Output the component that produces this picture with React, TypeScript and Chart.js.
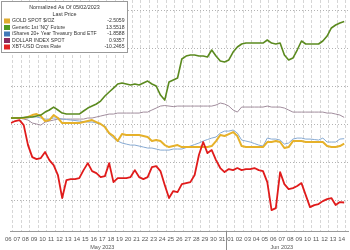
import React, { useEffect, useRef } from "react";
import { Chart, registerables } from "chart.js";
Chart.register(...registerables);

// time axis: days since 07 May 2023 00:00
const START = -0.2;
const STEP = 0.5;

const seriesNames = [
  "GOLD SPOT $/OZ",
  "Generic 1st 'NQ' Future",
  "iShares 20+ Year Treasury Bond ETF",
  "DOLLAR INDEX SPOT",
  "XBT-USD Cross Rate",
];
const lastPrices = ["-2.5059", "13.5518", "-1.8588", "0.9357", "-10.2465"];

const gold = [
  0.86, 0.86, 0.86, 0.86, 0.99, 1.25, 1.38, 1.12, 0.46, 0.59,
  1.25, 0.86, 0.2, 0.2, 0.2, 0.2, 0.2, 0.33, 0.46, 0.59,
  0.33, 0.07, -0.33, -1.12, -1.51, -2.17, -1.25, -1.38, -1.38, -1.38,
  -1.38, -1.51, -1.64, -2.17, -2.04, -2.17, -2.7, -2.96, -2.83, -2.7,
  -2.96, -2.96, -2.96, -2.96, -2.96, -2.96, -2.96, -2.83, -2.17, -1.38,
  -1.51, -1.25, -0.99, -1.51, -2.83, -2.96, -2.96, -2.96, -2.96, -2.96,
  -2.3, -2.3, -2.17, -2.3, -3.09, -2.96, -2.17, -2.17, -2.17, -2.3,
  -2.3, -2.3, -2.3, -2.3, -2.83, -2.96, -2.96, -2.83, -2.51,
];
const nasdaq = [
  0.86, 0.86, 0.86, 0.92, 0.99, 0.99, 1.12, 1.25, 1.64, 1.91,
  2.3, 1.91, 1.51, 1.38, 1.38, 1.38, 1.38, 1.78, 2.17, 2.43,
  2.7, 3.09, 3.75, 4.28, 4.8, 5.33, 5.46, 5.33, 5.2, 5.33,
  5.2, 5.46, 5.72, 5.33, 5.07, 3.88, 3.22, 5.59, 5.86, 6.12,
  8.62, 9.01, 9.14, 9.14, 9.01, 9.01, 8.88, 9.8, 9.01, 8.36,
  8.22, 8.49, 9.54, 10.2, 10.59, 10.72, 10.72, 10.72, 10.72, 10.72,
  11.12, 10.72, 10.59, 10.72, 9.14, 8.49, 8.75, 9.8, 10.99, 10.59,
  10.59, 10.59, 10.59, 10.99, 11.64, 12.7, 13.09, 13.36, 13.55,
];
const treasury = [
  0.86, 0.86, 0.86, 0.86, 0.86, 0.99, 0.99, 0.86, 0.72, 0.72,
  0.86, 0.86, 0.72, 0.66, 0.59, 0.53, 0.46, 0.39, 0.33, 0.33,
  0.2, 0.07, -0.2, -1.25, -1.78, -2.17, -2.43, -2.57, -2.7, -2.7,
  -2.83, -2.96, -3.09, -3.09, -3.22, -3.36, -3.36, -3.36, -3.22, -3.22,
  -3.22, -3.03, -2.83, -2.63, -2.43, -2.17, -1.97, -1.78, -1.64, -1.12,
  -0.86, -0.86, -0.72, -1.12, -2.04, -2.17, -2.3, -2.5, -2.7, -2.83,
  -1.78, -1.91, -1.91, -2.04, -2.57, -2.43, -1.91, -1.78, -1.78, -1.91,
  -1.91, -1.97, -2.04, -1.78, -2.3, -2.3, -2.3, -1.91, -1.86,
];
const dollar = [
  0.86, 0.86, 0.86, 0.72, 0.59, 0.2, 0.07, -0.07, 0.33, 0.46,
  0.59, 0.72, 0.72, 0.72, 0.72, 0.72, 0.72, 0.72, 0.86, 0.86,
  0.99, 1.12, 1.25, 1.38, 1.38, 1.51, 1.51, 1.51, 1.51, 1.51,
  1.51, 1.64, 1.64, 1.91, 2.17, 2.43, 2.5, 2.43, 2.36, 2.43,
  2.43, 2.43, 2.43, 2.43, 2.43, 2.43, 2.43, 2.43, 2.57, 2.83,
  2.7, 2.43, 1.91, 1.64, 2.3, 2.3, 2.3, 2.3, 2.3, 2.3,
  2.43, 2.3, 2.3, 2.3, 2.17, 1.91, 1.64, 1.64, 1.64, 1.64,
  1.64, 1.64, 1.64, 1.64, 1.51, 1.51, 1.38, 1.25, 0.94,
];
const bitcoin = [
  0.2, 0.46, 0.59, -0.07, -2.7, -4.28, -4.54, -4.41, -3.62, -4.67,
  -5.33, -6.64, -9.67, -7.3, -7.17, -7.17, -7.04, -5.99, -5.07, -6.12,
  -6.38, -6.91, -6.78, -5.07, -7.57, -7.04, -7.04, -7.04, -6.91, -5.99,
  -6.91, -7.17, -6.91, -5.59, -5.46, -6.12, -7.96, -9.67, -8.75, -8.88,
  -7.83, -7.7, -7.57, -6.64, -4.01, -2.3, -3.75, -3.36, -4.67, -5.72,
  -6.25, -5.86, -5.99, -5.72, -5.99, -5.86, -5.86, -5.72, -5.99, -6.12,
  -7.57, -11.25, -10.99, -6.25, -7.83, -8.49, -8.36, -8.09, -7.7, -9.28,
  -10.86, -10.59, -10.46, -10.07, -9.8, -9.67, -10.59, -10.2, -10.25,
];

// day tick labels, first one is 06 May (centre of that day = -0.5)
const FIRST_DAY = -1;
const dayLabels = [
  "06", "07", "08", "09", "10", "11", "12", "13", "14", "15", "16", "17", "18", "19",
  "20", "21", "22", "23", "24", "25", "26", "27", "28", "29", "30", "31",
  "01", "02", "03", "04", "05", "06", "07", "08", "09", "10", "11", "12", "13", "14",
];
const monthLabels = ["May 2023", "Jun 2023"];
const monthCenters = [10.5, 31.5];
const monthBoundary = 25;
const yGridValues = [-10, -5, 0, 5, 10, 15];

const X_MIN = -0.214;
const X_MAX = 39.29;
const Y_MIN = -14.0;
const Y_MAX = 16.38;

const colors = ["#e6b12a", "#5b8a1f", "#86a9d2", "#a08c9c", "#e01b1b"];
const legendColors = ["#dfac2e", "#4f9a22", "#4079b8", "#8b2a5c", "#e02222"];
const widths = [2, 1.6, 1, 1, 1.8];
const FONT = '"Liberation Sans", Arial, sans-serif';

const toPts = (arr: number[]) => arr.map((v, i) => ({ x: START + i * STEP, y: v }));

const overlay = {
  id: "overlay",
  afterDraw(chart: any) {
    const ctx = chart.ctx as CanvasRenderingContext2D;
    const xs = chart.scales.x;
    const area = chart.chartArea;
    ctx.save();
    // month separator
    const bx = Math.round(xs.getPixelForValue(monthBoundary)) + 0.5;
    ctx.strokeStyle = "#8c8c8c";
    ctx.lineWidth = 1;
    ctx.beginPath();
    ctx.moveTo(bx, area.bottom);
    ctx.lineTo(bx, chart.height);
    ctx.stroke();
    // month labels
    ctx.fillStyle = "#555";
    ctx.font = "5.5px " + FONT;
    ctx.textAlign = "center";
    ctx.textBaseline = "middle";
    monthLabels.forEach((m, i) => ctx.fillText(m, xs.getPixelForValue(monthCenters[i]), area.bottom + 16));

    // legend box
    const bxL = 1.5, byT = 1.5, bw = 126, bh = 51;
    ctx.fillStyle = "#ffffff";
    ctx.fillRect(bxL, byT, bw, bh);
    ctx.strokeStyle = "#9a9a9a";
    ctx.strokeRect(bxL, byT, bw, bh);
    ctx.fillStyle = "#333";
    ctx.font = "5.4px " + FONT;
    ctx.textAlign = "center";
    ctx.fillText("Normalized As Of 05/02/2023", bxL + bw / 2, 7.5);
    ctx.fillText("Last Price", bxL + bw / 2, 14.5);
    ctx.font = "5.1px " + FONT;
    seriesNames.forEach((n, i) => {
      const y = 21 + i * 6.5;
      ctx.fillStyle = legendColors[i];
      ctx.fillRect(4, y - 2.5, 6, 5);
      ctx.fillStyle = "#333";
      ctx.textAlign = "left";
      ctx.fillText(n, 12, y);
      ctx.textAlign = "right";
      ctx.fillText(lastPrices[i], 124.5, y);
    });
    ctx.restore();
  },
};

export default function App() {
  const ref = useRef<HTMLCanvasElement>(null);
  useEffect(() => {
    document.body.style.margin = "0";
    const series = [gold, nasdaq, treasury, dollar, bitcoin];
    const order = [3, 2, 4, 5, 1];
    const chart = new Chart(ref.current!, {
      type: "line",
      data: {
        datasets: series.map((s, i) => ({
          label: seriesNames[i],
          data: toPts(s),
          borderColor: colors[i],
          borderWidth: widths[i],
          pointRadius: 0,
          tension: 0,
          fill: false,
          order: order[i],
          borderJoinStyle: "round" as const,
        })),
      },
      options: {
        animation: false,
        responsive: false,
        devicePixelRatio: 1,
        layout: { padding: 0 },
        plugins: { legend: { display: false }, tooltip: { enabled: false }, title: { display: false } },
        scales: {
          x: {
            type: "linear",
            position: "bottom",
            min: X_MIN,
            max: X_MAX,
            afterBuildTicks: (s: any) => {
              const t = [];
              for (let d = 0; d <= 39; d++) t.push({ value: d });
              s.ticks = t;
            },
            afterFit: (s: any) => { s.height = 0; },
            ticks: { display: false },
            grid: { color: "#d6d6d6", lineWidth: 1, drawTicks: false },
            border: { display: false, dash: [3, 2] },
          },
          xl: {
            type: "linear",
            position: "bottom",
            min: X_MIN,
            max: X_MAX,
            afterBuildTicks: (s: any) => {
              s.ticks = dayLabels.map((_, i) => ({ value: FIRST_DAY + i + 0.5 }));
            },
            afterFit: (s: any) => { s.height = 19; },
            ticks: {
              autoSkip: false,
              maxRotation: 0,
              padding: 5,
              color: "#555",
              font: { size: 6, family: FONT },
              callback: (_v: any, i: number) => dayLabels[i],
            },
            grid: { display: false, drawTicks: false },
            border: { display: true, color: "#9a9a9a", width: 1 },
          },
          y: {
            type: "linear",
            min: Y_MIN,
            max: Y_MAX,
            afterBuildTicks: (s: any) => { s.ticks = yGridValues.map((v) => ({ value: v })); },
            afterFit: (s: any) => { s.width = 0; },
            ticks: { display: false },
            grid: { color: "#b4b4b4", lineWidth: 1, drawTicks: false },
            border: { display: false, dash: [1, 2] },
          },
        },
      },
      plugins: [overlay],
    });
    return () => chart.destroy();
  }, []);
  return (
    <div style={{ width: 350, height: 250, background: "#fff" }}>
      <canvas ref={ref} width={350} height={250} />
    </div>
  );
}
